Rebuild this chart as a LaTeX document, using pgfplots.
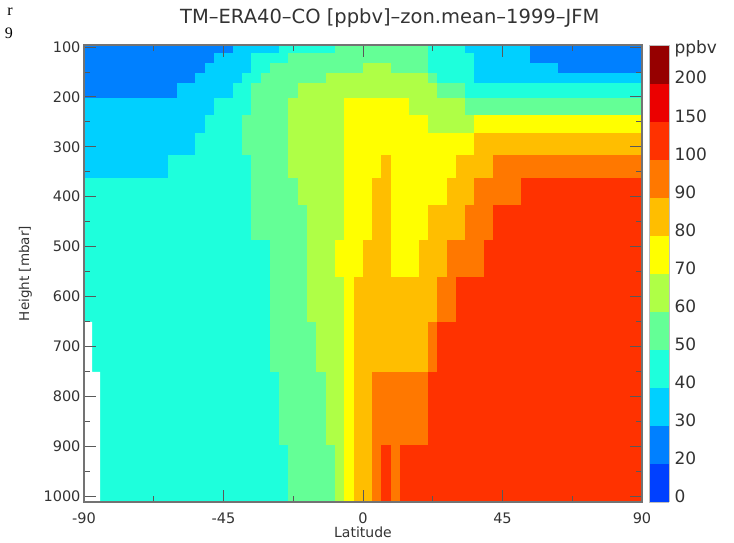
\documentclass[border=0pt]{standalone}
\usepackage{fontspec}
\setmainfont{DejaVu Sans}
\newfontfamily\scrapfont{Liberation Serif}
\usepackage{pgfplots}
\usepackage{pgfplotstable}
\pgfplotsset{compat=1.18}

\newcommand\fs[1]{\fontsize{#1}{#1}\selectfont}

% zonal mean CO (ppbv), one value per cell at the middle of
% each colour class. 16 model layers from the top down, each line is one layer
% of 60 latitude bands (3 deg, 90S -> 90N).
\pgfplotstableread[row sep=\\]{
c\\
25\\25\\25\\25\\25\\ 25\\25\\25\\25\\25\\ 25\\25\\25\\25\\25\\ 25\\ 35\\35\\35\\35\\35\\ 45\\45\\45\\45\\45\\ 45\\ 55\\55\\55\\55\\55\\ 55\\55\\55\\55\\55\\ 45\\45\\45\\45\\ 35\\35\\35\\35\\35\\ 35\\35\\ 25\\25\\25\\25\\25\\ 25\\25\\25\\25\\25\\ 25\\25\\
25\\25\\25\\25\\25\\ 25\\25\\25\\25\\25\\ 25\\25\\25\\25\\ 35\\35\\35\\35\\ 45\\45\\45\\45\\ 55\\55\\55\\55\\55\\ 55\\55\\55\\55\\55\\ 55\\55\\55\\55\\55\\ 45\\45\\45\\45\\45\\ 35\\35\\35\\35\\35\\ 35\\ 25\\25\\25\\25\\25\\ 25\\25\\25\\25\\25\\ 25\\25\\
25\\25\\25\\25\\25\\ 25\\25\\25\\25\\25\\ 25\\25\\25\\ 35\\35\\35\\35\\35\\ 45\\45\\ 55\\55\\55\\55\\55\\ 55\\55\\55\\55\\55\\ 65\\65\\65\\ 55\\55\\55\\55\\ 45\\45\\45\\45\\45\\ 35\\35\\35\\35\\35\\ 35\\35\\35\\35\\ 25\\25\\25\\25\\25\\ 25\\25\\25\\25\\
25\\25\\25\\25\\25\\ 25\\25\\25\\25\\25\\ 25\\25\\ 35\\35\\35\\35\\35\\ 45\\45\\ 55\\55\\55\\55\\55\\ 55\\55\\ 65\\65\\65\\65\\65\\ 65\\65\\65\\65\\65\\ 65\\ 55\\ 45\\45\\45\\45\\ 35\\35\\35\\35\\35\\ 35\\35\\35\\35\\35\\ 35\\35\\35\\35\\35\\ 35\\35\\35\\
25\\25\\25\\25\\25\\ 25\\25\\25\\25\\25\\ 35\\35\\35\\35\\35\\ 35\\ 45\\45\\ 55\\55\\55\\55\\55\\ 65\\65\\65\\65\\65\\ 65\\65\\65\\65\\65\\ 65\\65\\65\\65\\65\\ 55\\55\\55\\ 45\\45\\45\\45\\45\\ 45\\45\\45\\45\\45\\ 45\\45\\45\\45\\45\\ 45\\45\\45\\45\\
35\\35\\35\\35\\35\\ 35\\35\\35\\35\\35\\ 35\\35\\35\\35\\ 45\\45\\45\\45\\ 55\\55\\55\\55\\ 65\\65\\65\\65\\65\\ 65\\ 75\\75\\75\\75\\75\\ 75\\75\\ 65\\65\\65\\65\\65\\ 65\\ 55\\55\\55\\55\\55\\ 55\\55\\55\\55\\55\\ 55\\55\\55\\55\\55\\ 55\\55\\55\\55\\
35\\35\\35\\35\\35\\ 35\\35\\35\\35\\35\\ 35\\35\\35\\ 45\\45\\45\\45\\ 55\\55\\55\\55\\55\\ 65\\65\\65\\65\\65\\ 65\\ 75\\75\\75\\75\\75\\ 75\\75\\75\\75\\ 65\\65\\65\\65\\65\\ 75\\75\\75\\75\\75\\ 75\\75\\75\\75\\75\\ 75\\75\\75\\75\\75\\ 75\\75\\75\\
35\\35\\35\\35\\35\\ 35\\35\\35\\35\\35\\ 35\\35\\ 45\\45\\45\\45\\45\\ 55\\55\\55\\55\\55\\ 65\\65\\65\\65\\65\\ 65\\ 75\\75\\75\\75\\75\\ 75\\75\\75\\75\\75\\ 75\\75\\75\\75\\ 85\\85\\85\\85\\85\\ 85\\85\\85\\85\\85\\ 85\\85\\85\\85\\85\\ 85\\85\\85\\
35\\35\\35\\35\\35\\ 35\\35\\35\\35\\ 45\\45\\45\\45\\45\\ 45\\45\\45\\45\\ 55\\55\\55\\55\\ 65\\65\\65\\65\\65\\ 65\\ 75\\75\\75\\75\\ 85\\ 75\\75\\75\\75\\75\\ 75\\75\\ 85\\85\\85\\85\\ 95\\95\\95\\95\\95\\ 95\\95\\95\\95\\95\\ 95\\95\\95\\95\\95\\ 95\\
45\\45\\45\\45\\45\\ 45\\45\\45\\45\\45\\ 45\\45\\45\\45\\45\\ 45\\45\\45\\ 55\\55\\55\\55\\55\\ 65\\65\\65\\65\\65\\ 75\\75\\75\\ 85\\85\\ 75\\75\\75\\75\\75\\ 75\\ 85\\85\\85\\ 95\\95\\95\\95\\95\\ 125\\125\\125\\125\\125\\ 125\\125\\125\\125\\125\\ 125\\125\\125\\
45\\45\\45\\45\\45\\ 45\\45\\45\\45\\45\\ 45\\45\\45\\45\\45\\ 45\\45\\45\\ 55\\55\\55\\55\\55\\ 55\\ 65\\65\\65\\65\\ 75\\75\\75\\ 85\\85\\ 75\\75\\75\\75\\ 85\\85\\85\\85\\ 95\\95\\95\\ 125\\125\\125\\125\\125\\ 125\\125\\125\\125\\125\\ 125\\125\\125\\125\\125\\ 125\\
45\\45\\45\\45\\45\\ 45\\45\\45\\45\\45\\ 45\\45\\45\\45\\45\\ 45\\45\\45\\45\\45\\ 55\\55\\55\\55\\ 65\\65\\65\\ 75\\75\\75\\ 85\\85\\85\\ 75\\75\\75\\ 85\\85\\85\\ 95\\95\\95\\95\\ 125\\125\\125\\125\\125\\ 125\\125\\125\\125\\125\\ 125\\125\\125\\125\\125\\ 125\\125\\
45\\45\\45\\45\\45\\ 45\\45\\45\\45\\45\\ 45\\45\\45\\45\\45\\ 45\\45\\45\\45\\45\\ 55\\55\\55\\55\\ 65\\65\\65\\65\\ 75\\ 85\\85\\85\\85\\85\\ 85\\85\\85\\85\\ 95\\95\\ 125\\125\\125\\125\\125\\ 125\\125\\125\\125\\125\\ 125\\125\\125\\125\\125\\ 125\\125\\125\\125\\125\\
45\\45\\45\\45\\45\\ 45\\45\\45\\45\\45\\ 45\\45\\45\\45\\45\\ 45\\45\\45\\45\\45\\ 55\\55\\55\\55\\55\\ 65\\65\\65\\ 75\\ 85\\85\\85\\85\\85\\ 85\\85\\85\\ 95\\ 125\\125\\125\\125\\125\\ 125\\125\\125\\125\\125\\ 125\\125\\125\\125\\125\\ 125\\125\\125\\125\\125\\ 125\\125\\
45\\45\\45\\45\\45\\ 45\\45\\45\\45\\45\\ 45\\45\\45\\45\\45\\ 45\\45\\45\\45\\45\\ 45\\ 55\\55\\55\\55\\55\\ 65\\65\\ 75\\ 85\\85\\ 95\\95\\95\\95\\95\\ 95\\ 125\\125\\125\\125\\125\\ 125\\125\\125\\125\\125\\ 125\\125\\125\\125\\125\\ 125\\125\\125\\125\\125\\ 125\\125\\125\\
45\\45\\45\\45\\45\\ 45\\45\\45\\45\\45\\ 45\\45\\45\\45\\45\\ 45\\45\\45\\45\\45\\ 45\\45\\ 55\\55\\55\\55\\55\\ 65\\ 75\\ 85\\85\\ 95\\ 125\\ 95\\ 125\\125\\125\\125\\125\\ 125\\125\\125\\125\\125\\ 125\\125\\125\\125\\125\\ 125\\125\\125\\125\\125\\ 125\\125\\125\\125\\125\\ 125\\
}\codata

% layer centres (mbar) for each run of 60 cells, chosen so that the cell edges
% fall on the layer boundaries 96,112,132,152,172,202,236,272,316,362,417,487,
% 561,651,751,898
\def\layerp{(\coordindex<60?104:(\coordindex<120?120:(\coordindex<180?144:(\coordindex<240?160:(\coordindex<300?184:(\coordindex<360?220:(\coordindex<420?252:(\coordindex<480?292:(\coordindex<540?340:(\coordindex<600?384:(\coordindex<660?450:(\coordindex<720?524:(\coordindex<780?598:(\coordindex<840?704:(\coordindex<900?798:998)))))))))))))))}

\begin{document}
\begin{tikzpicture}
\path[use as bounding box] (0,0) rectangle (734pt,542pt);
% scraps of page text caught by the crop at the left edge
\node[font=\scrapfont\fs{16}, inner sep=0pt] at (10pt,530pt) {r};
\node[font=\scrapfont\fs{16}, inner sep=0pt] at (9pt,509pt) {9};

\begin{axis}[
  at={(84pt,40pt)}, anchor=south west,
  scale only axis, width=558pt, height=457pt,
  xmin=-90, xmax=90, ymin=96, ymax=1012, y dir=reverse,
  xtick={-90,-45,0,45,90}, minor x tick num=1,
  ytick={100,200,...,1000}, minor y tick num=1,
  tick align=inside,
  major tick length=12pt, minor tick length=6pt,
  tick style={black!65, line width=0.9pt},
  axis line style={black!55, line width=1.2pt},
  axis on top,
  /pgf/number format/assume math mode=true,
  /pgf/number format/1000 sep={},
  tick label style={font=\fs{14.5}, text=black!80},
  xticklabel style={yshift=-7pt},
  xlabel={Latitude}, ylabel={Height [mbar]},
  every axis x label/.style={at={(axis description cs:0.5,-0.0665)}, anchor=center, font=\fs{14}, text=black!80},
  every axis y label/.style={at={(axis description cs:-0.1048,0.5)}, anchor=center, rotate=90, font=\fs{13.5}, text=black!80},
  title={TM\textendash ERA40\textendash CO [ppbv]\textendash zon.mean\textendash 1999\textendash JFM},
  every axis title/.style={at={(axis description cs:0.548,1.059)}, anchor=center, font=\fs{19.5}, text=black!80},
  colormap={coppbv}{rgb255=(0,64,255) rgb255=(0,128,255) rgb255=(0,208,255)
    rgb255=(30,255,220) rgb255=(100,255,150) rgb255=(175,255,70) rgb255=(255,255,0)
    rgb255=(255,190,0) rgb255=(255,120,0) rgb255=(255,50,0) rgb255=(235,0,0)
    rgb255=(150,0,0)},
  colormap access=piecewise constant,
  point meta min=0, point meta max=12,
  colorbar,
  colorbar shift/.style={xshift=7.3pt},
  colorbar style={
    at={(parent axis.north east)}, anchor=north west,
    scale only axis, width=20pt,
    ytick={0.14,1.14,2.14,3.14,4.14,5.14,6.14,7.14,8.14,9.14,10.14,11.14,11.9},
    yticklabels={0,20,30,40,50,60,70,80,90,100,150,200,ppbv},
    major tick length=0pt,
    axis line style={black!25},
    yticklabel style={font=\fs{17}, text=black!80, xshift=1.7pt},
  },
]
% colour classes 0,20,30,...,100,150,200 are spaced evenly on the bar
\addplot[matrix plot*, mesh/cols=60,
  point meta={ifthenelse(\thisrow{c}<20, \thisrow{c}/20,
    ifthenelse(\thisrow{c}<100, 1+(\thisrow{c}-20)/10, 9+(\thisrow{c}-100)/50))}]
  table[x index=0, y index=0,
        x expr={-88.5+3*mod(\coordindex,60)},
        y expr={\layerp}] {\codata};
% no data below the Antarctic surface
\addplot[fill=white, draw=none] coordinates {
  (-90,651) (-87.4,651) (-87.4,751) (-84.8,751) (-84.8,1012) (-90,1012)} -- cycle;
\end{axis}
\end{tikzpicture}
\end{document}
